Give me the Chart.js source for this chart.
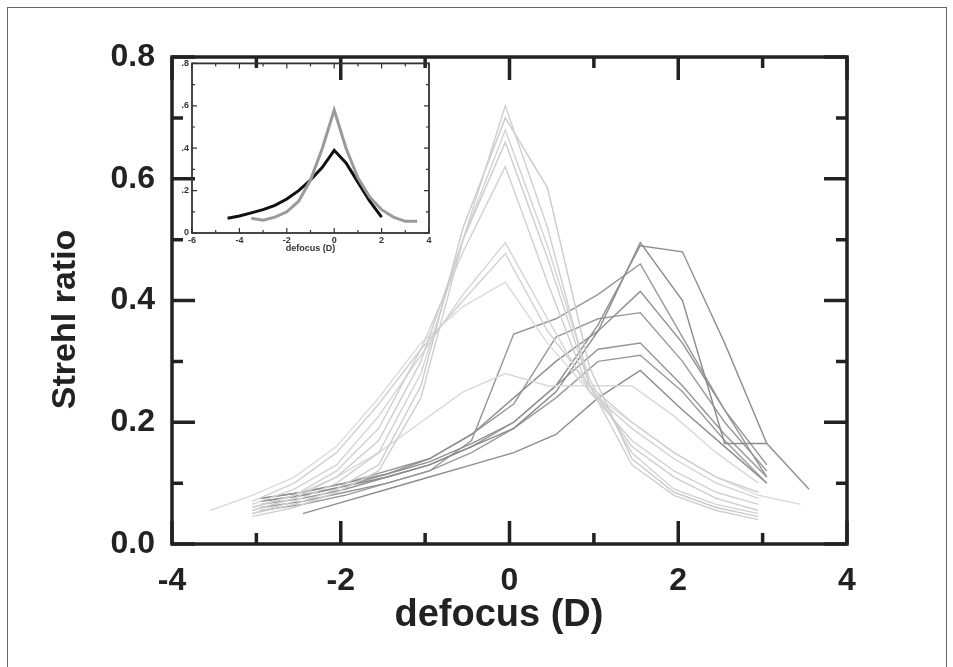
<!DOCTYPE html>
<html>
<head>
<meta charset="utf-8">
<script src="https://cdn.jsdelivr.net/npm/chart.js@4.4.1/dist/chart.umd.min.js"></script>
<style>
  html, body { margin: 0; padding: 0; background: #fff; }
  #wrap { position: relative; width: 953px; height: 667px; overflow: hidden; }
  #frame { position: absolute; left: 7px; top: 7px; width: 938px; height: 700px; border: 1px solid #666; }
  #main { position: absolute; left: 0; top: 0; }
  #inset { position: absolute; left: 170px; top: 55px; }
</style>
</head>
<body>
<div id="wrap">
  <div id="frame"></div>
  <canvas id="main" width="953" height="667"></canvas>
  <canvas id="inset" width="270" height="205"></canvas>
</div>
<script>
// ---- main plot: individual eyes ----
// curves peaking near 0 D (light grey)
const lightX = [-3.55, -3.05, -2.55, -2.05, -1.55, -1.05, -0.55, -0.05, 0.45, 0.95, 1.45, 1.95, 2.45, 2.95, 3.45];
const lightA = [null, .045, .06, .085, .12, .24, .50, .72, .52, .26, .13, .08, .055, .04, null];
const lightB = [null, .05, .065, .09, .13, .26, .52, .70, .585, .29, .14, .085, .06, .045, null];
const lightC = [null, .05, .07, .10, .15, .28, .50, .68, .49, .27, .15, .09, .065, .05, null];
const lightD = [null, .055, .075, .11, .17, .30, .50, .66, .47, .26, .16, .11, .075, .055, null];
const lightE = [null, .06, .08, .12, .19, .32, .48, .62, .43, .25, .17, .12, .085, .065, null];
const lightF = [null, .065, .09, .13, .21, .31, .41, .495, .37, .25, .19, .14, .10, .075, null];
const lightG = [null, .07, .10, .15, .23, .32, .40, .477, .35, .26, .20, .15, .11, .085, null];
const lightH = [.055, .08, .11, .16, .24, .33, .39, .43, .33, .25, .20, .15, .11, .08, .065];
const lightI = [null, .06, .08, .11, .15, .20, .25, .28, .26, .26, .26, .21, .15, .10, null];

// curves peaking near +1.5 D (darker grey)
const darkX = [-3.45, -2.95, -2.45, -1.95, -1.45, -0.95, -0.45, 0.05, 0.55, 1.05, 1.55, 2.05, 2.55, 3.05, 3.55];
const darkA = [null, .075, .085, .10, .115, .135, .165, .20, .26, .36, .49, .48, .33, .165, .09];
const darkB = [null, .07, .08, .095, .11, .13, .16, .19, .25, .35, .495, .40, .165, .165, null];
const darkC = [null, .06, .07, .085, .10, .12, .17, .345, .37, .41, .46, .34, .22, .11, null];
const darkD = [null, .075, .085, .10, .12, .14, .18, .24, .30, .35, .415, .33, .22, .13, null];
const darkE = [null, .07, .08, .095, .115, .14, .18, .23, .34, .37, .38, .30, .20, .12, null];
const darkF = [null, .065, .075, .09, .11, .13, .16, .20, .26, .32, .33, .26, .18, .11, null];
const darkG = [null, .055, .065, .08, .10, .12, .15, .19, .24, .30, .31, .25, .17, .10, null];
const darkH = [null, null, .05, .07, .09, .11, .13, .15, .18, .24, .285, .22, .16, .10, null];

// ---- inset: averages ----
const insetBlackX = [-4.5, -4, -3.5, -3, -2.5, -2, -1.5, -1, -0.5, 0, 0.5, 1, 1.5, 2];
const insetBlackY = [.07, .08, .095, .11, .13, .16, .20, .25, .31, .39, .33, .24, .15, .075];
const insetGreyX = [-3.5, -3, -2.5, -2, -1.5, -1, -0.5, 0, 0.5, 1, 1.5, 2, 2.5, 3, 3.5];
const insetGreyY = [.07, .06, .075, .10, .15, .25, .40, .58, .40, .26, .17, .11, .075, .055, .055];

const FONT = "'Liberation Sans', Arial, sans-serif";

function pts(xs, ys) {
  const out = [];
  xs.forEach((x, i) => { if (ys[i] !== null) out.push({ x: x, y: ys[i] }); });
  return out;
}

function line(xs, ys, color, width) {
  return {
    data: pts(xs, ys),
    showLine: true,
    borderColor: color,
    borderWidth: width,
    pointRadius: 0,
    fill: false,
    tension: 0
  };
}

// frame + inward ticks on all four sides
const frameTicks = {
  id: 'frameTicks',
  afterDraw(chart, args, o) {
    const { ctx, chartArea: a, scales: { x, y } } = chart;
    ctx.save();
    ctx.strokeStyle = o.color;
    ctx.lineWidth = o.tickWidth;
    ctx.beginPath();
    for (let v = x.min, k = 0; v <= x.max + 1e-9; v += o.xStep, k++) {
      const px = x.getPixelForValue(v);
      const len = k % 2 === 0 ? o.major : o.minor;
      ctx.moveTo(px, a.bottom); ctx.lineTo(px, a.bottom - len);
      ctx.moveTo(px, a.top); ctx.lineTo(px, a.top + len);
    }
    for (let v = y.min, k = 0; v <= y.max + 1e-9; v += o.yStep, k++) {
      const py = y.getPixelForValue(v);
      const len = k % 2 === 0 ? o.major : o.minor;
      ctx.moveTo(a.left, py); ctx.lineTo(a.left + len, py);
      ctx.moveTo(a.right, py); ctx.lineTo(a.right - len, py);
    }
    ctx.stroke();
    ctx.lineWidth = o.frameWidth;
    ctx.strokeRect(a.left, a.top, a.right - a.left, a.bottom - a.top);
    ctx.restore();
  }
};

const lightSets = [
  [lightA, '#cfcfcf'], [lightB, '#cbcbcb'], [lightC, '#d2d2d2'], [lightD, '#cdcdcd'],
  [lightE, '#d0d0d0'], [lightF, '#d3d3d3'], [lightG, '#d0d0d0'], [lightH, '#dadada'], [lightI, '#d8d8d8']
];
const darkSets = [
  [darkA, '#8f8f8f'], [darkB, '#8a8a8a'], [darkC, '#959595'], [darkD, '#909090'],
  [darkE, '#999999'], [darkF, '#959595'], [darkG, '#9a9a9a'], [darkH, '#8c8c8c']
];

const mainDatasets = [];
lightSets.forEach(s => mainDatasets.push(line(lightX, s[0], s[1], 1.4)));
darkSets.forEach(s => mainDatasets.push(line(darkX, s[0], s[1], 1.4)));

new Chart(document.getElementById('main'), {
  type: 'scatter',
  data: { datasets: mainDatasets },
  options: {
    responsive: false,
    animation: false,
    layout: { padding: { top: 57, right: 106, left: 0, bottom: 0 } },
    plugins: {
      legend: { display: false },
      tooltip: { enabled: false },
      frameTicks: { color: '#222', tickWidth: 3.5, frameWidth: 3.5, major: 23, minor: 11, xStep: 1, yStep: 0.1 }
    },
    scales: {
      x: {
        type: 'linear', min: -4, max: 4,
        afterFit: s => { s.height = 123; },
        grid: { display: false, drawTicks: false },
        border: { display: false },
        ticks: { stepSize: 2, padding: 18, color: '#222', font: { family: FONT, size: 32, weight: 'bold' },
                 callback: v => String(v) },
        title: { display: true, text: 'defocus (D)  ', color: '#222',
                 font: { family: FONT, size: 38, weight: 'bold' }, padding: { top: 0, bottom: 29 } }
      },
      y: {
        type: 'linear', min: 0, max: 0.8,
        afterFit: s => { s.width = 172; },
        grid: { display: false, drawTicks: false },
        border: { display: false },
        ticks: { stepSize: 0.2, padding: 17, color: '#222', font: { family: FONT, size: 32, weight: 'bold' },
                 callback: v => v.toFixed(1) },
        title: { display: true, text: 'Strehl ratio    ', color: '#222',
                 font: { family: FONT, size: 34, weight: 'bold' }, padding: { top: 45, bottom: 0 } }
      }
    }
  },
  plugins: [frameTicks]
});

new Chart(document.getElementById('inset'), {
  type: 'scatter',
  data: {
    datasets: [
      line(insetGreyX, insetGreyY, '#9a9a9a', 3),
      line(insetBlackX, insetBlackY, '#111', 3)
    ]
  },
  options: {
    responsive: false,
    animation: false,
    layout: { padding: { top: 7, right: 11, left: 0, bottom: 0 } },
    plugins: {
      legend: { display: false },
      tooltip: { enabled: false },
      frameTicks: { color: '#333', tickWidth: 1.2, frameWidth: 1.8, major: 5, minor: 3, xStep: 1, yStep: 0.1 }
    },
    scales: {
      x: {
        type: 'linear', min: -6, max: 4,
        afterFit: s => { s.height = 27; },
        grid: { display: false, drawTicks: false },
        border: { display: false },
        ticks: { stepSize: 2, padding: 2, color: '#333', font: { family: FONT, size: 9, weight: 'bold' },
                 callback: v => String(v) },
        title: { display: true, text: 'defocus (D)', color: '#333',
                 font: { family: FONT, size: 9, weight: 'bold' }, padding: { top: 0, bottom: 6 } }
      },
      y: {
        type: 'linear', min: 0, max: 0.8,
        afterFit: s => { s.width = 22; },
        grid: { display: false, drawTicks: false },
        border: { display: false },
        ticks: { stepSize: 0.2, padding: 3, color: '#333', font: { family: FONT, size: 9, weight: 'bold' },
                 callback: v => v === 0 ? '0' : v.toFixed(1).replace(/^0/, '') }
      }
    }
  },
  plugins: [frameTicks]
});
</script>
</body>
</html>
